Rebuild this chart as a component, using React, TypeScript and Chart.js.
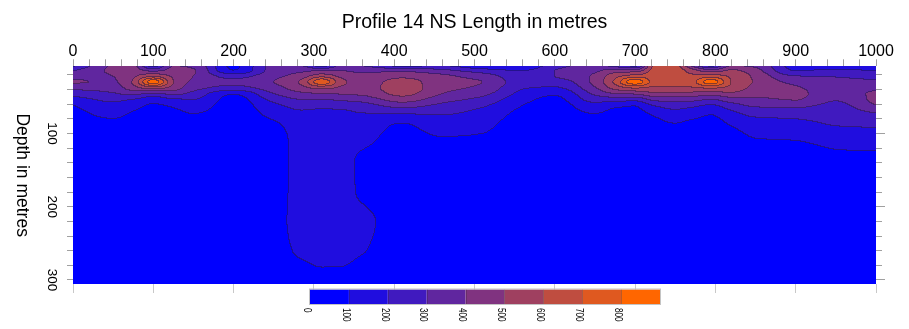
import React, { useEffect, useRef } from 'react';
import { Chart, registerables } from 'chart.js';
Chart.register(...registerables);

const FONT = "'Liberation Sans', Arial, sans-serif";

const xTitle = 'Profile 14 NS Length in metres';
const yTitle = 'Depth in metres';
const xMajorTicks = [0, 100, 200, 300, 400, 500, 600, 700, 800, 900, 1000];
const depthMajorTicks = [100, 200, 300];
const levels = [0, 100, 200, 300, 400, 500, 600, 700, 800];
const DEPTH_MIN = 8.3;
const DEPTH_MAX = 305.5;

// grid nodes (metres)
const xNodes = [0, 50, 75, 100, 125, 150, 200, 250, 285, 310, 335, 360, 410, 460, 510, 560, 600, 650, 675, 700, 725, 750, 770, 795, 820, 850, 900, 950, 1000];
const depthNodes = [8, 15, 22, 30, 38, 46, 54, 63, 75, 90, 110, 140, 180, 220, 260, 290, 306];

// values per depth row, one per x node
const d008 = [180, 410, 420, 150, 400, 380, 80, 320, 300, 150, 330, 300, 170, 200, 110, 95, 260, 330, 260, 170, 620, 640, 400, 170, 400, 380, 160, 150, 150];
const d015 = [300, 420, 450, 380, 440, 410, 105, 340, 380, 400, 400, 380, 380, 330, 250, 200, 300, 380, 450, 450, 640, 650, 560, 450, 520, 440, 200, 220, 200];
const d022 = [370, 400, 480, 580, 480, 400, 260, 370, 450, 560, 470, 420, 470, 420, 350, 240, 300, 420, 560, 640, 650, 650, 620, 640, 580, 480, 300, 290, 260];
const d030 = [410, 390, 510, 860, 510, 380, 320, 400, 520, 780, 530, 450, 540, 440, 400, 250, 250, 430, 620, 870, 660, 640, 660, 860, 600, 490, 370, 330, 320];
const d038 = [330, 350, 460, 560, 460, 340, 270, 360, 470, 540, 480, 450, 560, 430, 380, 210, 190, 390, 540, 620, 580, 580, 590, 620, 570, 470, 410, 360, 370];
const d046 = [240, 290, 330, 290, 330, 270, 110, 300, 380, 400, 410, 420, 530, 400, 330, 170, 115, 320, 400, 420, 480, 480, 470, 450, 480, 430, 420, 350, 420];
const d054 = [160, 220, 200, 140, 190, 200, 60, 230, 300, 300, 320, 340, 450, 340, 270, 130, 75, 240, 250, 240, 330, 350, 340, 300, 360, 380, 405, 310, 430];
const d063 = [95, 175, 130, 85, 110, 150, 50, 170, 230, 220, 230, 250, 330, 270, 210, 98, 50, 160, 115, 100, 200, 240, 220, 180, 250, 310, 320, 270, 390];
const d075 = [65, 120, 85, 60, 70, 95, 45, 125, 175, 170, 170, 190, 190, 200, 160, 70, 45, 95, 70, 70, 110, 150, 130, 100, 160, 220, 230, 240, 280];
const d090 = [50, 70, 55, 45, 50, 60, 40, 80, 140, 145, 140, 140, 88, 140, 120, 50, 40, 60, 50, 50, 70, 90, 75, 65, 100, 140, 160, 200, 210];
const d110 = [40, 45, 40, 35, 40, 45, 35, 55, 135, 140, 130, 118, 70, 90, 85, 40, 35, 45, 40, 40, 50, 55, 50, 45, 65, 95, 100, 125, 140];
const d140 = [35, 35, 35, 30, 35, 35, 30, 50, 135, 140, 128, 85, 50, 55, 50, 35, 30, 35, 35, 35, 40, 40, 40, 40, 45, 60, 60, 75, 70];
const d180 = [30, 30, 30, 30, 30, 30, 30, 55, 135, 140, 128, 88, 45, 45, 40, 30, 30, 30, 30, 30, 35, 35, 35, 35, 35, 40, 40, 45, 45];
const d220 = [30, 30, 30, 30, 30, 30, 30, 62, 135, 140, 135, 122, 55, 40, 40, 30, 30, 30, 30, 30, 30, 30, 30, 30, 30, 35, 35, 35, 35];
const d260 = [30, 30, 30, 30, 30, 30, 30, 55, 120, 140, 138, 108, 48, 40, 40, 30, 30, 30, 30, 30, 30, 30, 30, 30, 30, 30, 30, 30, 30];
const d290 = [30, 30, 30, 30, 30, 30, 30, 40, 62, 84, 82, 48, 35, 35, 35, 30, 30, 30, 30, 30, 30, 30, 30, 30, 30, 30, 30, 30, 30];
const d306 = [30, 30, 30, 30, 30, 30, 30, 35, 45, 50, 50, 40, 30, 30, 30, 30, 30, 30, 30, 30, 30, 30, 30, 30, 30, 30, 30, 30, 30];

const valueRows = [d008, d015, d022, d030, d038, d046, d054, d063, d075, d090, d110, d140, d180, d220, d260, d290, d306];

function bandColor(k: number): [number, number, number] {
  const t = k / 8;
  return [Math.round(255 * t), Math.round(102 * t), Math.round(255 * (1 - t))];
}

function tangents(xs: number[], ys: number[]): number[] {
  const n = xs.length;
  const d: number[] = [];
  for (let i = 0; i < n - 1; i++) d.push((ys[i + 1] - ys[i]) / (xs[i + 1] - xs[i]));
  const m = new Array(n).fill(0);
  m[0] = d[0];
  m[n - 1] = d[n - 2];
  for (let i = 1; i < n - 1; i++) {
    if (d[i - 1] * d[i] <= 0) m[i] = 0;
    else {
      const h0 = xs[i] - xs[i - 1];
      const h1 = xs[i + 1] - xs[i];
      const w1 = 2 * h1 + h0;
      const w2 = h1 + 2 * h0;
      m[i] = (w1 + w2) / (w1 / d[i - 1] + w2 / d[i]);
    }
  }
  return m;
}

function hermite(xs: number[], ys: number[], m: number[], x: number): number {
  const n = xs.length;
  if (x <= xs[0]) return ys[0];
  if (x >= xs[n - 1]) return ys[n - 1];
  let i = 0;
  while (i < n - 2 && x > xs[i + 1]) i++;
  const h = xs[i + 1] - xs[i];
  const t = (x - xs[i]) / h;
  const t2 = t * t;
  const t3 = t2 * t;
  return (2 * t3 - 3 * t2 + 1) * ys[i] + (t3 - 2 * t2 + t) * h * m[i] + (-2 * t3 + 3 * t2) * ys[i + 1] + (t3 - t2) * h * m[i + 1];
}

const contourPlugin = {
  id: 'contourFill',
  beforeDatasetsDraw(chart: any) {
    const { ctx, chartArea } = chart;
    const xs = chart.scales.x;
    const ys = chart.scales.y;
    const left = Math.round(chartArea.left);
    const top = Math.round(chartArea.top);
    const W = Math.round(chartArea.right) - left;
    const H = Math.round(chartArea.bottom) - top;
    const rowTan = valueRows.map((r) => tangents(xNodes, r));
    const bands = new Int8Array(W * H);
    const dVals: number[] = [];
    for (let j = 0; j < H; j++) dVals.push(ys.getValueForPixel(top + j + 0.5));
    for (let i = 0; i < W; i++) {
      const xv = xs.getValueForPixel(left + i + 0.5);
      const col = valueRows.map((r, k) => hermite(xNodes, r, rowTan[k], xv));
      const colTan = tangents(depthNodes, col);
      for (let j = 0; j < H; j++) {
        const v = hermite(depthNodes, col, colTan, dVals[j]);
        bands[j * W + i] = Math.max(0, Math.min(8, Math.floor(v / 100)));
      }
    }
    const off = document.createElement('canvas');
    off.width = W;
    off.height = H;
    const octx = off.getContext('2d')!;
    const img = octx.createImageData(W, H);
    const cols = levels.map((_, k) => bandColor(k));
    for (let j = 0; j < H; j++) {
      for (let i = 0; i < W; i++) {
        const b = bands[j * W + i];
        const c = cols[b];
        let edge = false;
        if (i < W - 1 && bands[j * W + i + 1] !== b) edge = true;
        if (j < H - 1 && bands[(j + 1) * W + i] !== b) edge = true;
        const p = (j * W + i) * 4;
        if (edge) {
          img.data[p] = Math.round(c[0] * 0.45 + 22);
          img.data[p + 1] = Math.round(c[1] * 0.45 + 12);
          img.data[p + 2] = Math.round(c[2] * 0.45 + 40);
        } else {
          img.data[p] = c[0];
          img.data[p + 1] = c[1];
          img.data[p + 2] = c[2];
        }
        img.data[p + 3] = 255;
      }
    }
    octx.putImageData(img, 0, 0);
    ctx.drawImage(off, left, top);
  },
};

const decorPlugin = {
  id: 'decor',
  afterDraw(chart: any) {
    const { ctx, chartArea } = chart;
    const ys = chart.scales.y;
    ctx.save();
    ctx.fillStyle = '#000';
    // y-axis title (reads top to bottom)
    ctx.save();
    ctx.translate(21.7, (chartArea.top + chartArea.bottom) / 2);
    ctx.rotate(Math.PI / 2);
    ctx.font = `17.5px ${FONT}`;
    ctx.textAlign = 'center';
    ctx.textBaseline = 'middle';
    ctx.fillText(yTitle, 0, 0);
    ctx.restore();
    // y-axis labels
    for (const v of depthMajorTicks) {
      ctx.save();
      ctx.translate(51.7, ys.getPixelForValue(v));
      ctx.rotate(Math.PI / 2);
      ctx.font = `13.5px ${FONT}`;
      ctx.textAlign = 'center';
      ctx.textBaseline = 'middle';
      ctx.fillText(String(v), 0, 0);
      ctx.restore();
    }
    // colour bar
    const cbX = 310;
    const cbW = 350;
    const cbY = 289.5;
    const cbH = 14.5;
    const w = cbW / levels.length;
    levels.forEach((_, k) => {
      const c = bandColor(k);
      ctx.fillStyle = `rgb(${c[0]},${c[1]},${c[2]})`;
      ctx.fillRect(cbX + k * w, cbY, w, cbH);
    });
    ctx.strokeStyle = 'rgba(60,40,60,0.35)';
    ctx.lineWidth = 1;
    for (let k = 1; k < levels.length; k++) {
      const xx = Math.round(cbX + k * w) + 0.5;
      ctx.beginPath();
      ctx.moveTo(xx, cbY);
      ctx.lineTo(xx, cbY + cbH);
      ctx.stroke();
    }
    ctx.strokeStyle = '#c4c4c4';
    ctx.strokeRect(cbX - 0.5, cbY - 0.5, cbW + 1, cbH + 1);
    ctx.fillStyle = '#000';
    levels.forEach((lv, k) => {
      ctx.save();
      ctx.translate(cbX + k * w - 3.5, 308);
      ctx.rotate(Math.PI / 2);
      ctx.scale(0.82, 1);
      ctx.font = `10px ${FONT}`;
      ctx.textAlign = 'left';
      ctx.textBaseline = 'middle';
      ctx.fillText(String(lv), 0, 0);
      ctx.restore();
    });
    ctx.restore();
  },
};

function stepTicks(min: number, max: number, step: number) {
  const out: { value: number }[] = [];
  for (let v = Math.ceil(min / step) * step; v <= max + 1e-9; v += step) out.push({ value: v });
  return out;
}

export default function App() {
  const ref = useRef<HTMLCanvasElement>(null);
  useEffect(() => {
    const canvas = ref.current!;
    const grid = { drawOnChartArea: false, drawTicks: true, color: '#a0a0a0', tickColor: '#a0a0a0', lineWidth: 1 };
    const chart = new Chart(canvas, {
      type: 'scatter',
      data: { datasets: [{ data: [], xAxisID: 'x', yAxisID: 'y' }] },
      options: {
        animation: false,
        responsive: false,
        devicePixelRatio: 1,
        layout: { padding: { left: 67, right: 24, top: 7.1, bottom: 36 } },
        plugins: { legend: { display: false }, tooltip: { enabled: false } },
        scales: {
          x: {
            type: 'linear',
            position: 'top',
            min: 0,
            max: 1000,
            afterBuildTicks: (ax: any) => { ax.ticks = stepTicks(0, 1000, 20); },
            ticks: {
              autoSkip: false,
              maxRotation: 0,
              minRotation: 0,
              padding: -2,
              color: '#000',
              font: { family: FONT, size: 16 },
              callback: (v: any) => (xMajorTicks.includes(Number(v)) ? String(v) : ''),
            },
            grid: { ...grid, tickLength: 7 },
            border: { display: false },
            title: { display: true, text: xTitle, color: '#000', font: { family: FONT, size: 19.5 }, padding: { top: 4, bottom: 9.6 } },
          },
          x2: {
            type: 'linear',
            position: 'bottom',
            min: 0,
            max: 1000,
            afterBuildTicks: (ax: any) => { ax.ticks = xMajorTicks.map((v) => ({ value: v })); },
            ticks: { display: false },
            grid: { ...grid, color: '#c8c8c8', tickColor: '#c8c8c8', tickLength: 9 },
            border: { display: false },
          },
          y: {
            type: 'linear',
            position: 'left',
            reverse: true,
            min: DEPTH_MIN,
            max: DEPTH_MAX,
            afterBuildTicks: (ax: any) => { ax.ticks = stepTicks(DEPTH_MIN, DEPTH_MAX, 20); },
            ticks: { display: false },
            grid: { ...grid, tickLength: 6 },
            border: { display: false },
          },
          y2: {
            type: 'linear',
            position: 'right',
            reverse: true,
            min: DEPTH_MIN,
            max: DEPTH_MAX,
            afterBuildTicks: (ax: any) => { ax.ticks = stepTicks(DEPTH_MIN, DEPTH_MAX, 20); },
            ticks: { display: false },
            grid: { ...grid, tickLength: 6 },
            border: { display: false },
          },
          y3: {
            type: 'linear',
            position: 'right',
            reverse: true,
            min: DEPTH_MIN,
            max: DEPTH_MAX,
            afterBuildTicks: (ax: any) => { ax.ticks = depthMajorTicks.map((v) => ({ value: v })); },
            ticks: { display: false },
            grid: { ...grid, tickLength: 3 },
            border: { display: false },
          },
        },
      } as any,
      plugins: [contourPlugin, decorPlugin],
    });
    return () => chart.destroy();
  }, []);
  return (
    <div style={{ position: 'absolute', left: 0, top: 0, width: 909, height: 329, background: '#fff' }}>
      <canvas ref={ref} width={909} height={329} style={{ display: 'block', width: 909, height: 329 }} />
    </div>
  );
}
